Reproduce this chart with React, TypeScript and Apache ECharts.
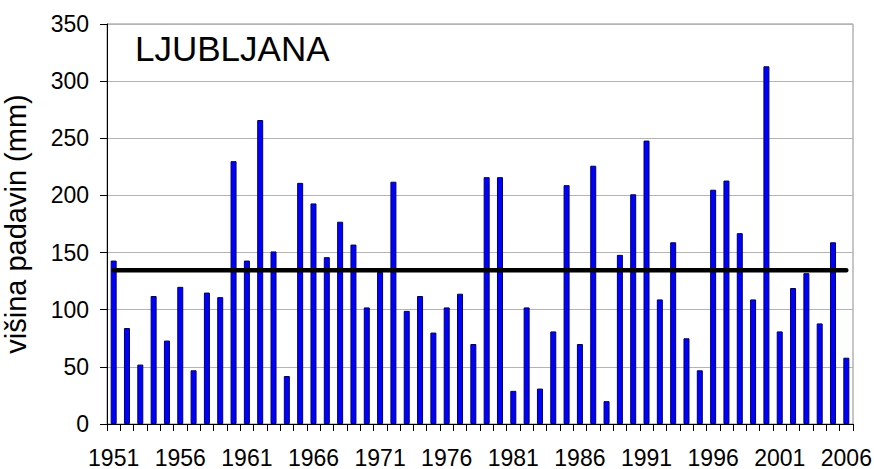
import React, { useEffect, useRef } from "react";
import * as echarts from "echarts";

const years: string[] = [
  "1951","1952","1953","1954","1955","1956","1957","1958","1959","1960",
  "1961","1962","1963","1964","1965","1966","1967","1968","1969","1970",
  "1971","1972","1973","1974","1975","1976","1977","1978","1979","1980",
  "1981","1982","1983","1984","1985","1986","1987","1988","1989","1990",
  "1991","1992","1993","1994","1995","1996","1997","1998","1999","2000",
  "2001","2002","2003","2004","2005","2006",
];

const precipitation: number[] = [
  143, 84, 52, 112, 73, 120, 47, 115, 111, 230,
  143, 266, 151, 42, 211, 193, 146, 177, 157, 102,
  133, 212, 99, 112, 80, 102, 114, 70, 216, 216,
  29, 102, 31, 81, 209, 70, 226, 20, 148, 201,
  248, 109, 159, 75, 47, 205, 213, 167, 109, 313,
  81, 119, 132, 88, 159, 58,
];

const averageValue = 134.6;
const averageLine: number[] = years.map(() => averageValue);

const yTicks = { min: 0, max: 350, interval: 50 };
const stationName = "LJUBLJANA";
const yAxisName = "višina padavin (mm)";

const FONT = "Arial, 'Liberation Sans', sans-serif";

export default function App() {
  const ref = useRef<HTMLDivElement>(null);
  useEffect(() => {
    if (!ref.current) return;
    const chart = echarts.init(ref.current, undefined, { renderer: "svg" });
    chart.setOption({
      animation: false,
      backgroundColor: "#ffffff",
      grid: {
        left: 107,
        right: 21,
        top: 24,
        bottom: 45,
        containLabel: false,
        outerBoundsMode: "none",
        show: true,
        borderColor: "#8c8c8c",
        borderWidth: 1,
      },
      graphic: [
        {
          type: "text",
          left: 135,
          top: 31,
          style: {
            text: stationName,
            font: `35px ${FONT}`,
            fill: "#000",
          },
          z: 100,
        },
      ],
      xAxis: {
        type: "category",
        data: years,
        boundaryGap: true,
        axisLine: { show: true, lineStyle: { color: "#000", width: 1 } },
        axisTick: {
          show: true,
          interval: 0,
          length: 7,
          alignWithLabel: false,
          lineStyle: { color: "#000" },
        },
        axisLabel: {
          interval: 4,
          fontSize: 23,
          fontFamily: FONT,
          color: "#000",
          margin: 22,
        },
        splitLine: { show: false },
      },
      yAxis: {
        type: "value",
        min: yTicks.min,
        max: yTicks.max,
        interval: yTicks.interval,
        name: yAxisName,
        nameLocation: "middle",
        nameRotate: 90,
        nameGap: 77,
        nameTextStyle: { fontSize: 29, fontFamily: FONT, color: "#000", lineHeight: 29 },
        axisLine: { show: true, lineStyle: { color: "#000", width: 1 } },
        axisTick: { show: true, length: 7, lineStyle: { color: "#000" } },
        axisLabel: { fontSize: 23, fontFamily: FONT, color: "#000", margin: 18 },
        splitLine: { show: true, lineStyle: { color: "#b4b4b4", width: 1 } },
      },
      series: [
        {
          type: "bar",
          data: precipitation,
          barWidth: 6,
          itemStyle: { color: "#0000ff", borderColor: "#000060", borderWidth: 1 },
          z: 2,
        },
        {
          type: "line",
          data: averageLine,
          symbol: "none",
          lineStyle: { color: "#000", width: 4.5, cap: "round" },
          z: 3,
        },
      ],
    });
    return () => chart.dispose();
  }, []);
  return <div ref={ref} style={{ width: 874, height: 469, position: "absolute", left: 0, top: 0 }} />;
}
